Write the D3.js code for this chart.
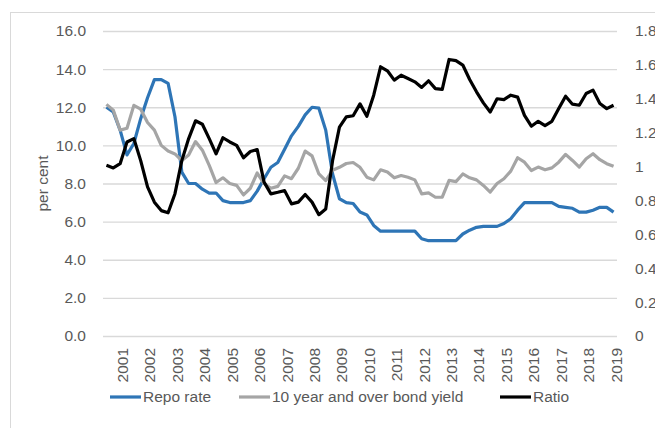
<!DOCTYPE html>
<html>
  <head>
    <meta charset="utf-8">
    <title>Repo rate and bond yield</title>
    <script src="https://cdn.jsdelivr.net/npm/d3@7"></script>
    <style>
      body { margin: 0; background: #fff; }
      text { font-family: "Liberation Sans", Arial, sans-serif; fill: #595959; }
    </style>
  </head>
  <body>
    <div class="chart"></div>

    <script type="text/javascript">

    // quarterly observations, 2001Q1 .. 2019Q3
    var quarters = [];
    for (var yr = 2001; yr <= 2019; yr++) {
      for (var q = 1; q <= 4; q++) quarters.push(yr + "Q" + q);
    }
    quarters = quarters.slice(0, 75);

    var yearLabels = ["2001", "2002", "2003", "2004", "2005", "2006", "2007", "2008", "2009", "2010",
                      "2011", "2012", "2013", "2014", "2015", "2016", "2017", "2018", "2019"];

    var leftTicks = [0, 2, 4, 6, 8, 10, 12, 14, 16];
    var rightTicks = [0, 0.2, 0.4, 0.6, 0.8, 1, 1.2, 1.4, 1.6, 1.8];

    var repoRate = [
      12.0, 11.75, 10.8, 9.5, 10.1, 11.4, 12.5, 13.45, 13.45, 13.25, 11.5, 8.6, 8.0, 8.0, 7.7, 7.5, 7.5, 7.1, 7.0,
      7.0, 7.0, 7.1, 7.6, 8.25, 8.85, 9.1, 9.8, 10.5, 11.0, 11.6, 12.0, 11.95, 10.8, 8.5, 7.2, 7.0, 6.95, 6.5,
      6.35, 5.8, 5.5, 5.5, 5.5, 5.5, 5.5, 5.5, 5.1, 5.0, 5.0, 5.0, 5.0, 5.0, 5.35, 5.55, 5.7, 5.75, 5.75,
      5.75, 5.9, 6.15, 6.6, 7.0, 7.0, 7.0, 7.0, 7.0, 6.8, 6.75, 6.7, 6.5, 6.5, 6.6, 6.75, 6.75, 6.5
    ];

    var bondYield = [
      12.15, 11.85, 10.8, 10.9, 12.1, 11.9, 11.2, 10.8, 10.0, 9.7, 9.55, 9.2, 9.5, 10.2, 9.75, 8.95, 8.05, 8.3, 8.0,
      7.9, 7.4, 7.75, 8.55, 8.0, 7.75, 7.85, 8.4, 8.25, 8.8, 9.7, 9.45, 8.5, 8.15, 8.7, 8.85, 9.05, 9.1, 8.85,
      8.33, 8.19, 8.72, 8.6, 8.3, 8.42, 8.33, 8.19, 7.46, 7.51, 7.28, 7.28, 8.16, 8.1, 8.5, 8.3, 8.19, 7.9, 7.55,
      8.0, 8.25, 8.65, 9.35, 9.12, 8.68, 8.86, 8.72, 8.82, 9.12, 9.53, 9.21, 8.86, 9.3, 9.56, 9.25, 9.04, 8.9
    ];

    var ratio = [
      1.007, 0.992, 1.017, 1.145, 1.165, 1.035, 0.88, 0.79, 0.74, 0.727, 0.84, 1.035, 1.165, 1.27, 1.25, 1.165, 1.075, 1.17, 1.145,
      1.125, 1.052, 1.089, 1.10, 0.908, 0.839, 0.848, 0.858, 0.78, 0.79, 0.835, 0.79, 0.716, 0.75, 1.036, 1.233, 1.293, 1.30, 1.37,
      1.297, 1.421, 1.589, 1.565, 1.51, 1.539, 1.52, 1.50, 1.467, 1.506, 1.46, 1.455, 1.632, 1.625, 1.599, 1.514, 1.441, 1.376, 1.322,
      1.40, 1.395, 1.421, 1.41, 1.302, 1.238, 1.267, 1.242, 1.267, 1.342, 1.415, 1.368, 1.362, 1.431, 1.451, 1.372, 1.342, 1.362
    ];

    var series = [
      {name: "Repo rate", values: repoRate, axis: "left", color: "#2e75b6"},
      {name: "10 year and over bond yield", values: bondYield, axis: "left", color: "#a5a5a5"},
      {name: "Ratio", values: ratio, axis: "right", color: "#000000"}
    ];

    var width = 655,
        height = 428;

    var plot = {left: 103, right: 617, top: 31, bottom: 336};

    var svg = d3.select(".chart").append("svg")
        .attr("width", width)
        .attr("height", height);

    // chart area outline (runs off the window on the right and bottom)
    svg.append("rect")
        .attr("x", 10.5)
        .attr("y", 12.5)
        .attr("width", 700)
        .attr("height", 500)
        .attr("fill", "none")
        .attr("stroke", "#d9d9d9");

    var x = d3.scalePoint()
        .domain(quarters)
        .range([plot.left, plot.right])
        .padding(0.5);

    var yLeft = d3.scaleLinear().domain([0, 16]).range([plot.bottom, plot.top]);
    var yRight = d3.scaleLinear().domain([0, 1.8]).range([plot.bottom, plot.top]);

    // gridlines
    var grid = svg.append("g")
        .attr("transform", "translate(" + plot.left + ",0)")
        .call(d3.axisLeft(yLeft).tickValues(leftTicks).tickSize(-(plot.right - plot.left)).tickFormat(""));
    grid.select(".domain").remove();
    grid.selectAll("line").attr("stroke", "#d9d9d9").attr("stroke-width", 1.3);

    // left axis labels
    var left = svg.append("g")
        .attr("transform", "translate(" + plot.left + ",0)")
        .call(d3.axisLeft(yLeft).tickValues(leftTicks).tickSize(0).tickPadding(17).tickFormat(d3.format(".1f")));
    left.select(".domain").remove();
    left.selectAll("text").style("font-size", "15.5px").attr("fill", "#595959");

    // right axis labels
    var right = svg.append("g")
        .attr("transform", "translate(" + plot.right + ",0)")
        .call(d3.axisRight(yRight).tickValues(rightTicks).tickSize(0).tickPadding(18)
          .tickFormat(function(d) { return String(+d.toFixed(1)); }));
    right.select(".domain").remove();
    right.selectAll("text").style("font-size", "15.5px").attr("fill", "#595959");

    // x axis: one label per year, rotated
    var yearTicks = quarters.filter(function(q) { return q.slice(5) === "3"; });
    var bottom = svg.append("g")
        .attr("transform", "translate(0," + plot.bottom + ")")
        .call(d3.axisBottom(x).tickValues(yearTicks).tickSize(0)
          .tickFormat(function(q) { return yearLabels[yearTicks.indexOf(q)]; }));
    bottom.select(".domain").remove();
    bottom.selectAll("text")
        .attr("transform", "rotate(-90)")
        .attr("x", -12)
        .attr("y", 0)
        .attr("dy", "0.48em")
        .style("text-anchor", "end")
        .style("font-size", "15.5px")
        .attr("fill", "#595959");

    // y axis title
    svg.append("text")
        .attr("transform", "translate(43," + ((plot.top + plot.bottom) / 2) + ") rotate(-90)")
        .attr("text-anchor", "middle")
        .attr("dy", "0.35em")
        .style("font-size", "15.5px")
        .text("per cent");

    // lines
    series.forEach(function(s) {
      var y = s.axis === "left" ? yLeft : yRight;
      var line = d3.line()
          .x(function(d, i) { return x(quarters[i]); })
          .y(function(d) { return y(d); });

      svg.append("path")
          .datum(s.values)
          .attr("fill", "none")
          .attr("stroke", s.color)
          .attr("stroke-width", 3.2)
          .attr("stroke-linejoin", "round")
          .attr("d", line);
    });

    // legend
    var legendX = [110, 239, 500];
    var legend = svg.append("g")
        .selectAll("g")
        .data(series)
        .enter().append("g")
        .attr("transform", function(d, i) { return "translate(" + legendX[i] + ",397)"; });

    legend.append("line")
        .attr("x1", 0)
        .attr("x2", 31)
        .attr("stroke", function(d) { return d.color; })
        .attr("stroke-width", 3.2);

    legend.append("text")
        .attr("x", 33)
        .attr("dy", "0.35em")
        .style("font-size", "15.5px")
        .text(function(d) { return d.name; });

    </script>
  </body>
</html>
